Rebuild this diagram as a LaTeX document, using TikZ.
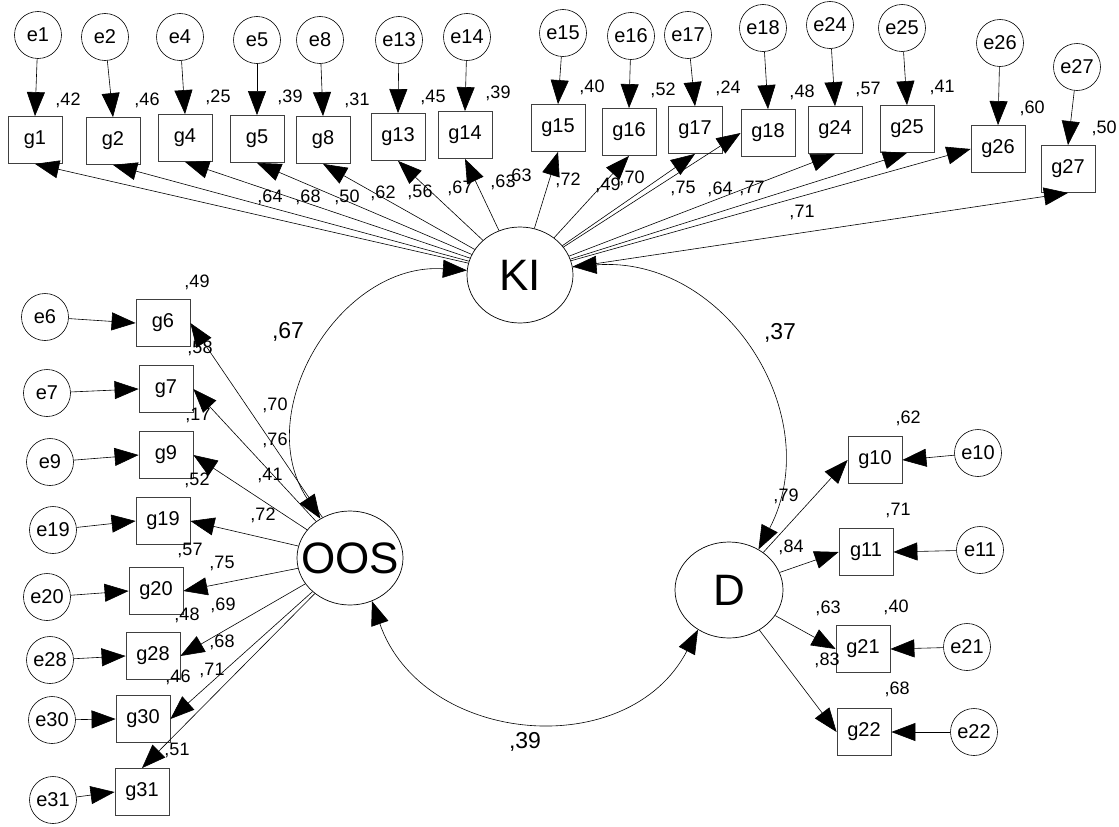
\documentclass[tikz,border=0pt]{standalone}
\usepackage{fontspec}
\setmainfont{Liberation Sans}
\usetikzlibrary{arrows.meta,shapes.geometric}
\tikzset{
  lat/.style={ellipse, draw, line width=0.7pt, inner sep=0pt, font=\fontsize{44}{44}\selectfont},
  obs/.style={rectangle, draw=black!75, line width=0.8pt, minimum width=54pt, minimum height=47pt, inner sep=0pt, font=\fontsize{20}{20}\selectfont},
  err/.style={circle, draw, line width=0.6pt, minimum size=47pt, inner sep=0pt, font=\fontsize{20}{20}\selectfont},
  lbl/.style={inner sep=0pt, font=\fontsize{18}{18}\selectfont},
  biglbl/.style={inner sep=0pt, font=\fontsize{23}{23}\selectfont},
  arr/.style={-{Triangle[length=24pt,width=18pt]}, line width=0.6pt},
  cov/.style={{Triangle[length=24pt,width=18pt]}-{Triangle[length=24pt,width=18pt]}, line width=0.6pt},
}
\begin{document}
\begin{tikzpicture}[x=1pt,y=-1pt]
\useasboundingbox (0,0) rectangle (1119,827);
% latent variables
\node[lat, minimum width=106pt, minimum height=96pt] (KI) at (520,275) {\makebox[0pt]{KI}};
\node[lat, minimum width=106pt, minimum height=94pt] (OOS) at (350,558) {\makebox[0pt]{OOS}};
\node[lat, minimum width=108pt, minimum height=96pt] (D) at (729,590) {\makebox[0pt]{D}};
% top row indicators
\node[obs] (g1) at (35,140) {g1};   \node[err] (e1) at (38,35) {e1};
\node[obs] (g2) at (113,141) {g2};  \node[err] (e2) at (105,37) {e2};
\node[obs] (g4) at (185,138) {g4};  \node[err] (e4) at (180,37) {e4};
\node[obs] (g5) at (257,139) {g5};  \node[err] (e5) at (257,40) {e5};
\node[obs] (g8) at (323,140) {g8};  \node[err] (e8) at (320,40) {e8};
\node[obs] (g13) at (398,137) {g13}; \node[err] (e13) at (399,40) {e13};
\node[obs] (g14) at (465,135) {g14}; \node[err] (e14) at (467,37) {e14};
\node[obs] (g15) at (558,128) {g15}; \node[err] (e15) at (563,33) {e15};
\node[obs] (g16) at (629,132) {g16}; \node[err] (e16) at (631,36) {e16};
\node[obs] (g17) at (695,130) {g17}; \node[err] (e17) at (688,35) {e17};
\node[obs] (g18) at (768,133) {g18}; \node[err] (e18) at (763,28) {e18};
\node[obs] (g24) at (835,130) {g24}; \node[err] (e24) at (830,25) {e24};
\node[obs] (g25) at (907,129) {g25}; \node[err] (e25) at (902,28) {e25};
\node[obs] (g26) at (998,149) {g26}; \node[err] (e26) at (1000,43) {e26};
\node[obs] (g27) at (1068,169) {g27}; \node[err] (e27) at (1077,67) {e27};
% left indicators
\node[obs] (g6) at (163,323) {g6};   \node[err] (e6) at (45,317) {e6};
\node[obs] (g7) at (166,389) {g7};   \node[err] (e7) at (47,393) {e7};
\node[obs] (g9) at (166,455) {g9};   \node[err] (e9) at (50,462) {e9};
\node[obs] (g19) at (163,521) {g19}; \node[err] (e19) at (53,530) {e19};
\node[obs] (g20) at (156,591) {g20}; \node[err] (e20) at (47,597) {e20};
\node[obs] (g28) at (153,656) {g28}; \node[err] (e28) at (50,660) {e28};
\node[obs] (g30) at (143,719) {g30}; \node[err] (e30) at (52,720) {e30};
\node[obs] (g31) at (142,792) {g31}; \node[err] (e31) at (53,800) {e31};
% right indicators
\node[obs] (g10) at (875,460) {g10}; \node[err] (e10) at (978,453) {e10};
\node[obs] (g11) at (866,552) {g11}; \node[err] (e11) at (980,550) {e11};
\node[obs] (g21) at (863,649) {g21}; \node[err] (e21) at (967,647) {e21};
\node[obs] (g22) at (864,732) {g22}; \node[err] (e22) at (974,732) {e22};
% error arrows
\foreach \n in {1,2,4,5,8,13,14,15,16,17,18,24,25,26,27}
  \draw[arr] (e\n) -- (g\n.north);
\foreach \n in {6,7,9,19,20,28,30,31}
  \draw[arr] (e\n) -- (g\n.west);
\foreach \n in {10,11,21,22}
  \draw[arr] (e\n) -- (g\n.east);
% KI loadings
\foreach \n in {1,2,4,5,8,13,14,15,16,17,24,25,27}
  \draw[arr] (KI) -- (g\n.south);
\draw[arr] (KI) -- (g18.west);
\draw[arr] (KI) -- (g26.west);
% OOS loadings
\foreach \n in {6,7,9,19,20,28,30}
  \draw[arr] (OOS) -- (g\n.east);
\draw[arr] (OOS) -- (g31.north);
% D loadings
\foreach \n in {10,11,21,22}
  \draw[arr] (D) -- (g\n.west);
% covariances
\draw[cov] (OOS.127) .. controls (250,412) and (340,262) .. (KI.175);
\draw[cov] (KI.9) .. controls (726,255) and (828,417) .. (D.54);
\draw[cov] (OOS.-63) .. controls (422,745) and (628,764) .. (D.232);
% R^2 labels top
\node[lbl] (r1) at (68,100) {,42};
\node[lbl] (r2) at (147,100) {,46};
\node[lbl] (r4) at (218,97) {,25};
\node[lbl] (r5) at (290,97) {,39};
\node[lbl] (r8) at (357,100) {,31};
\node[lbl] (r13) at (433,97) {,45};
\node[lbl] (r14) at (498,93) {,39};
\node[lbl] (r15) at (592,87) {,40};
\node[lbl] (r16) at (663,90) {,52};
\node[lbl] (r17) at (728,88) {,24};
\node[lbl] (r18) at (802,92) {,48};
\node[lbl] (r24) at (868,89) {,57};
\node[lbl] (r25) at (942,87) {,41};
\node[lbl] (r26) at (1032,108) {,60};
\node[lbl] (r27) at (1104,128) {,50};
% loading labels top
\node[lbl] (l1) at (270,197) {,64};
\node[lbl] (l2) at (308,197) {,68};
\node[lbl] (l4) at (347,197) {,50};
\node[lbl] (l5) at (383,193) {,62};
\node[lbl] (l8) at (420,192) {,56};
\node[lbl] (l13) at (460,188) {,67};
\node[lbl] (l14) at (503,182) {,63};
\node[lbl] (l15) at (519,176) {,63};
\node[lbl] (l16) at (568,180) {,72};
\node[lbl] (l17) at (608,185) {,49};
\node[lbl] (l18) at (632,178) {,70};
\node[lbl] (l24) at (683,188) {,75};
\node[lbl] (l25) at (720,189) {,64};
\node[lbl] (l26) at (752,188) {,77};
\node[lbl] (l27) at (802,212) {,71};
% left labels
\node[lbl] (r6) at (197,282) {,49};
\node[lbl] (r7) at (200,348) {,58};
\node[lbl] (r9) at (198,415) {,17};
\node[lbl] (r19) at (197,480) {,52};
\node[lbl] (r20) at (190,550) {,57};
\node[lbl] (r28) at (187,615) {,48};
\node[lbl] (r30) at (178,677) {,46};
\node[lbl] (r31) at (177,750) {,51};
\node[lbl] (l6) at (275,405) {,70};
\node[lbl] (l7) at (275,440) {,76};
\node[lbl] (l9) at (270,475) {,41};
\node[lbl] (l19) at (263,515) {,72};
\node[lbl] (l20) at (222,563) {,75};
\node[lbl] (l28) at (223,605) {,69};
\node[lbl] (l30) at (222,642) {,68};
\node[lbl] (l31) at (212,670) {,71};
% right labels
\node[lbl] (r10) at (908,418) {,62};
\node[lbl] (r11) at (898,510) {,71};
\node[lbl] (r21) at (896,607) {,40};
\node[lbl] (r22) at (897,689) {,68};
\node[lbl] (l10) at (786,496) {,79};
\node[lbl] (l11) at (791,547) {,84};
\node[lbl] (l21) at (828,608) {,63};
\node[lbl] (l22) at (827,660) {,83};
% covariance labels
\node[biglbl] (c1) at (288,332) {,67};
\node[biglbl] (c2) at (780,333) {,37};
\node[biglbl] (c3) at (525,742) {,39};
\end{tikzpicture}
\end{document}
